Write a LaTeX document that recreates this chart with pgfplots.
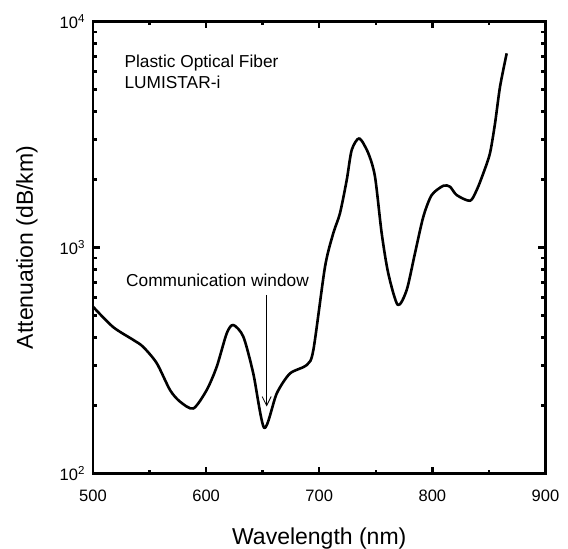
\documentclass[border=0pt]{standalone}
\usepackage{fontspec}
\setmainfont{Liberation Sans}
\usepackage{pgfplots}
\pgfplotsset{compat=1.18}
\usetikzlibrary{arrows.meta}

\begin{document}
\begin{tikzpicture}
% page area: axis box is 452.5pt x 452pt with its lower left corner at the origin
\useasboundingbox (-93pt,-75.5pt) rectangle (475pt,473.5pt);
\begin{axis}[
  at={(0,0)}, anchor=south west,
  scale only axis,
  width=452.5pt, height=452pt,
  tick style={black, line width=2.4pt},
  axis line style={line width=2.8pt},
  major tick length=7pt,
  minor tick length=4pt,
  ymode=log,
  xmin=500, xmax=900,
  ymin=100, ymax=10000,
  xtick={500,600,700,800,900},
  xticklabels={500,600,700,800,900},
  minor x tick num=1,
  ytick={100,1000,10000},
  yticklabels={10\textsuperscript{2},10\textsuperscript{3},10\textsuperscript{4}},
  tick label style={font=\fontsize{16.5}{19}\selectfont},
  xticklabel style={yshift=-13.3pt},
  yticklabel style={xshift=-4.5pt},
  every axis x label/.style={at={(rel axis cs:0.5,-0.158)}, anchor=base},
  every axis y label/.style={at={(rel axis cs:-0.1326,0.5)}, rotate=90, anchor=base},
  label style={font=\fontsize{23}{27}\selectfont},
  xlabel={Wavelength (nm)},
  ylabel={Attenuation (dB/km)},
]
% measured attenuation spectrum
\addplot[black, line width=2.6pt, smooth, tension=0.45, line join=round] coordinates {
  (500,547) (517.7,445) (535.6,390) (544.2,364) (556.3,308) (568.1,234)
  (576.9,208) (588.7,194) (600.5,234) (609.4,297) (618.2,417) (624.0,454)
  (632.9,403) (641.7,277) (651.4,159) (662.4,226) (674.1,277) (689.0,302)
  (694.8,352) (705.1,822) (712.4,1156) (718.3,1416) (724.3,1990) (728.7,2700)
  (735.4,3040) (743.4,2610) (749.3,2056) (755.2,1156) (761.0,769) (769.4,557)
  (777.3,649) (784.6,942) (792.0,1368) (799.4,1706) (809.7,1876) (815.6,1857)
  (821.5,1706) (833.3,1610) (839.2,1796) (845.0,2128) (850.9,2610) (855.4,3545)
  (859.8,5143) (865.7,7230)
};
% annotations
\node[anchor=base west, font=\fontsize{17.3}{20}\selectfont] at (rel axis cs:0.062,0.898) {Plastic Optical Fiber};
\node[anchor=base west, font=\fontsize{17.3}{20}\selectfont] at (rel axis cs:0.062,0.852) {LUMISTAR-i};
\node[anchor=base, font=\fontsize{17.3}{20}\selectfont] at (axis cs:610.1,672) {Communication window};
\draw[line width=0.8pt, -{Straight Barb[length=9pt, width=9pt]}] (axis cs:653.5,617) -- (axis cs:653.5,198);
\end{axis}
\end{tikzpicture}
\end{document}
